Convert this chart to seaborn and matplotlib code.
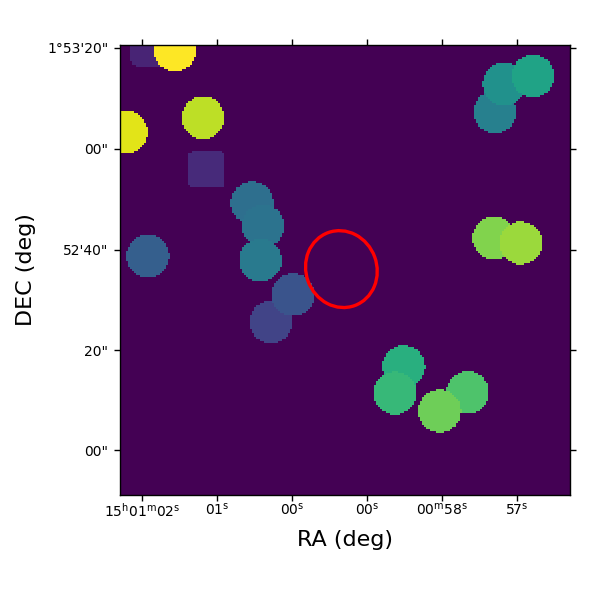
import numpy as np
import matplotlib
matplotlib.use("Agg")
import matplotlib.pyplot as plt
import seaborn as sns
from matplotlib.patches import Ellipse

GRID_SIZE = 225
SCALE = GRID_SIZE / 200
disc_col = [24.4, 2.7, 36.9, 58.7, 63.6, 62.4, 76.9, 67.1, 12.4, 183.6, 170.7, 166.7, 166.2, 178.2, 126.1, 122.2, 154.5, 142.1]
disc_row = [2.2, 38.7, 32.3, 70.2, 80.4, 95.7, 110.9, 123.1, 93.8, 13.8, 17.3, 29.8, 85.8, 88.0, 143.0, 154.7, 154.5, 162.7]
disc_val = [1.0, 0.955, 0.90, 0.36, 0.38, 0.41, 0.26, 0.20, 0.30, 0.58, 0.50, 0.43, 0.81, 0.85, 0.63, 0.67, 0.72, 0.78]
disc_radius = 9.5
square_col = [12.9, 38.4]
square_row = [1.3, 55.4]
square_val = [0.10, 0.12]
square_half = 8.1
region_col, region_row = 98.4, 99.6
region_width, region_height = 31.5, 34.5
region_angle = -20

xtick_pos = [9.8, 43.1, 76.4, 109.8, 143.1, 176.4]
xtick_labels = [r"15$^{\mathrm{h}}$01$^{\mathrm{m}}$02$^{\mathrm{s}}$", r"01$^{\mathrm{s}}$",
                r"00$^{\mathrm{s}}$", r"00$^{\mathrm{s}}$",
                r"00$^{\mathrm{m}}$58$^{\mathrm{s}}$", r"57$^{\mathrm{s}}$"]
ytick_pos = [1.3, 46.2, 91.1, 135.6, 180.0]
ytick_labels = ["1°53'20\"", "00\"", "52'40\"", "20\"", "00\""]

rows, cols = (np.mgrid[0:GRID_SIZE, 0:GRID_SIZE] + 0.5) / SCALE
image = np.zeros((GRID_SIZE, GRID_SIZE))
for c, r, v in zip(disc_col, disc_row, disc_val):
    mask = (cols - c) ** 2 + (rows - r) ** 2 <= disc_radius ** 2
    image[mask] = np.maximum(image[mask], v)
for c, r, v in zip(square_col, square_row, square_val):
    mask = (np.abs(cols - c) / square_half) ** 8 + (np.abs(rows - r) / square_half) ** 8 <= 1
    image[mask] = np.maximum(image[mask], v)

fig = plt.figure(figsize=(6, 6), dpi=100)
ax = fig.add_axes([0.2, 0.175, 0.75, 0.75])
sns.heatmap(image, ax=ax, cmap="viridis", vmin=0, vmax=1, cbar=False,
            xticklabels=False, yticklabels=False)
for s in ax.spines.values():
    s.set_visible(True)
    s.set_linewidth(1)
    s.set_color("black")

ax.add_patch(Ellipse((region_col * SCALE, region_row * SCALE), region_width * SCALE, region_height * SCALE,
                     angle=region_angle, fill=False, edgecolor="red", linewidth=2.4))

ax.set_xticks(np.array(xtick_pos) * SCALE)
ax.set_xticklabels(xtick_labels, rotation=0, fontsize=10)
ax.set_yticks(np.array(ytick_pos) * SCALE)
ax.set_yticklabels(ytick_labels, rotation=0, fontsize=10)
ax.tick_params(axis="both", length=4, width=1, top=True, right=True, direction="out")
ax.tick_params(axis="x", pad=1)
ax.tick_params(axis="y", pad=4.5)
ax.set_xlabel("RA (deg)", fontsize=16, labelpad=7)
ax.set_ylabel("DEC (deg)", fontsize=16, labelpad=8)

fig.savefig("out.png", dpi=100)
